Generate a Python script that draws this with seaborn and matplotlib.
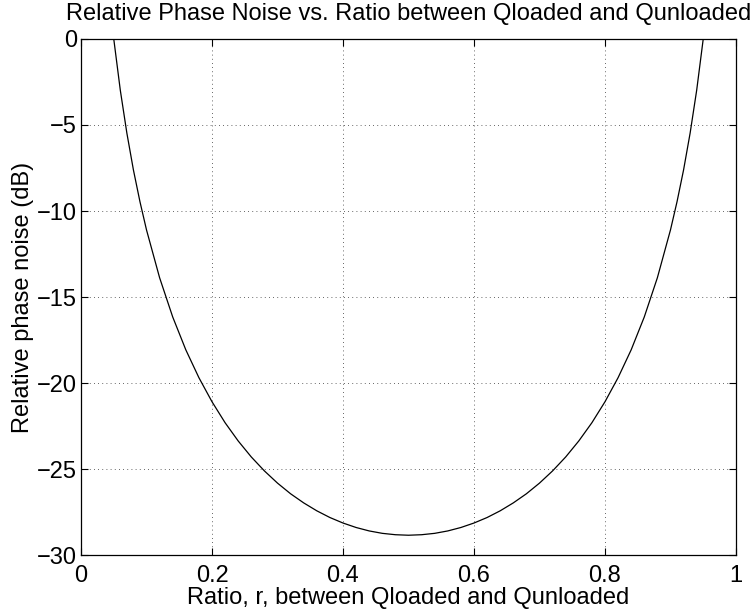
import matplotlib
matplotlib.use("Agg")
import matplotlib.pyplot as plt
import seaborn as sns
import pandas as pd

# Values
ratio = [0.05, 0.06, 0.07, 0.08, 0.09, 0.10, 0.12, 0.14, 0.16, 0.18, 0.20, 0.22, 0.24,
         0.26, 0.28, 0.30, 0.32, 0.34, 0.36, 0.38, 0.40, 0.42, 0.44, 0.46, 0.48, 0.50,
         0.52, 0.54, 0.56, 0.58, 0.60, 0.62, 0.64, 0.66, 0.68, 0.70, 0.72, 0.74, 0.76,
         0.78, 0.80, 0.82, 0.84, 0.86, 0.88, 0.90, 0.91, 0.92, 0.93, 0.94, 0.95]
noise_db = [0.0, -2.98, -5.47, -7.61, -9.46, -11.10, -13.88, -16.16, -18.07, -19.69,
            -21.09, -22.31, -23.37, -24.30, -25.11, -25.82, -26.44, -26.97, -27.43,
            -27.82, -28.14, -28.40, -28.60, -28.74, -28.82, -28.85,
            -28.82, -28.74, -28.60, -28.40, -28.14, -27.82, -27.43, -26.97, -26.44,
            -25.82, -25.11, -24.30, -23.37, -22.31, -21.09, -19.69, -18.07, -16.16,
            -13.88, -11.10, -9.46, -7.61, -5.47, -2.98, 0.0]
xticks = [0, 0.2, 0.4, 0.6, 0.8, 1]
yticks = [-30, -25, -20, -15, -10, -5, 0]

sns.set_style("white")
plt.rcParams['font.family'] = ['Liberation Sans', 'DejaVu Sans']

df = pd.DataFrame({"r": ratio, "db": noise_db})

fig = plt.figure(figsize=(7.55, 6.16), dpi=100)
ax = fig.add_axes([0.1073, 0.099, 0.8675, 0.8377])
sns.lineplot(data=df, x="r", y="db", ax=ax, color="black", linewidth=0.9, sort=False)

ax.set_xlim(0, 1)
ax.set_ylim(-30, 0)
ax.set_xticks(xticks)
ax.set_xticklabels(["0", "0.2", "0.4", "0.6", "0.8", "1"])
ax.set_yticks(yticks)
ax.set_yticklabels(["\u221230", "\u221225", "\u221220", "\u221215", "\u221210", "\u22125", "0"])
ax.tick_params(direction="in", length=5, width=0.8, labelsize=17, labelcolor="black",
               color="black", top=True, right=True, bottom=True, left=True)
ax.tick_params(axis="x", pad=7.5)
ax.tick_params(axis="y", pad=3)
ax.grid(True, linestyle=(0, (1, 4)), color="black", linewidth=0.6, alpha=0.8)
for s in ax.spines.values():
    s.set_visible(True)
    s.set_color("black")
    s.set_linewidth(0.9)

ax.set_title("Relative Phase Noise vs. Ratio between Qloaded and Qunloaded",
             fontsize=17, pad=13.5, color="black")
ax.set_xlabel("Ratio, r, between Qloaded and Qunloaded", fontsize=17, labelpad=0,
              color="black")
ax.set_ylabel("Relative phase noise (dB)", fontsize=17, labelpad=2, color="black")

fig.savefig("out.png", dpi=100, facecolor="white")
